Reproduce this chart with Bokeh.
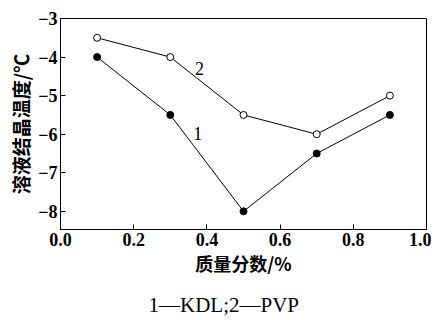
from bokeh.plotting import figure
from bokeh.models import Range1d, Label, FixedTicker, Title, CustomJSTickFormatter
from bokeh.embed import file_html
from bokeh.resources import INLINE

x_vals = [0.1, 0.3, 0.5, 0.7, 0.9]
kdl = [-4.0, -5.5, -8.0, -6.5, -5.5]
pvp = [-3.5, -4.0, -5.5, -6.0, -5.0]
x_ticks = [0.0, 0.2, 0.4, 0.6, 0.8, 1.0]
y_ticks = [-8, -7, -6, -5, -4, -3]
x_label = "质量分数/%"
y_label = "溶液结晶温度/℃"
caption = "1—KDL;2—PVP"

p = figure(frame_width=366, frame_height=211, output_backend="svg", toolbar_location=None,
           x_range=Range1d(0, 1.0), y_range=Range1d(-8.47, -3))
p.min_border_left = 60
p.min_border_right = 5
p.min_border_top = 18
p.min_border_bottom = 91
p.xgrid.visible = False
p.ygrid.visible = False
p.outline_line_color = "black"
p.outline_line_width = 1

for ax in (p.xaxis[0], p.yaxis[0]):
    ax.major_tick_in = 5
    ax.major_tick_out = 0
    ax.minor_tick_line_color = None
    ax.axis_line_color = "black"
    ax.major_tick_line_color = "black"
    ax.major_label_text_font = "Liberation Serif"
    ax.major_label_text_font_style = "bold"
    ax.major_label_text_font_size = "18px"
    ax.major_label_text_color = "black"
    ax.axis_label_text_font = "Noto Sans CJK SC"
    ax.axis_label_text_font_style = "bold"
    ax.axis_label_text_color = "black"
    ax.major_label_standoff = 3
    ax.axis_label_standoff = 1

p.xaxis[0].axis_label_text_font_size = "18px"
p.yaxis[0].axis_label_text_font_size = "19px"

p.xaxis.ticker = FixedTicker(ticks=x_ticks)
p.yaxis.ticker = FixedTicker(ticks=y_ticks)
p.xaxis.formatter = CustomJSTickFormatter(code="return tick.toFixed(1);")
p.yaxis.formatter = CustomJSTickFormatter(code="return tick.toFixed(0).replace('-', '\\u2212');")
p.xaxis.axis_label = x_label
p.yaxis.axis_label = y_label

p.line(x_vals, kdl, line_color="black", line_width=1)
p.scatter(x_vals, kdl, size=7, fill_color="black", line_color="black")
p.line(x_vals, pvp, line_color="black", line_width=1)
p.scatter(x_vals, pvp, size=7, fill_color="white", line_color="black")

for txt, xx, yy in (("1", 0.375, -5.98), ("2", 0.38, -4.3)):
    p.add_layout(Label(x=xx, y=yy, text=txt, text_font="Liberation Serif",
                       text_font_size="18px", text_align="center",
                       text_baseline="middle", text_color="black"))

p.add_layout(Title(text=caption, text_font="Liberation Serif", text_font_size="21px",
                   text_font_style="normal", text_color="black", align="left",
                   offset=88, standoff=25), "below")

open("out.html", "w").write(file_html(p, INLINE))
